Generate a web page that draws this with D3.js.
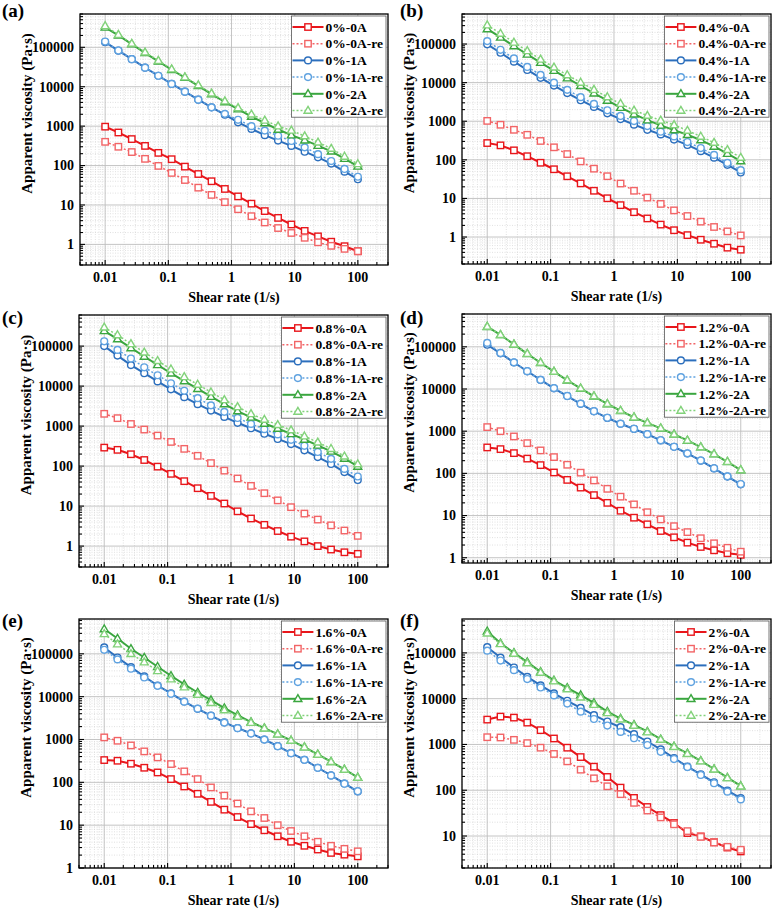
<!DOCTYPE html>
<html><head><meta charset="utf-8">
<script src="https://cdn.jsdelivr.net/npm/d3@7"></script>
<style>
body{margin:0;background:#fff}
text{font-family:"Liberation Serif","Times New Roman",serif;font-weight:bold;fill:#000}
</style>
</head><body>
<svg id="chart" width="776" height="917"></svg>
<script>
// ---------- DATA ----------
const shearRate = [0.01,0.0162,0.0264,0.0428,0.0695,0.113,0.183,0.298,0.483,0.785,1.27,2.07,3.36,5.46,8.86,14.4,23.4,37.9,61.6,100];
const panelLabels = ["(a)","(b)","(c)","(d)","(e)","(f)"];
const concentrations = ["0%","0.4%","0.8%","1.2%","1.6%","2%"];
const seriesSuffix = ["-0A","-0A-re","-1A","-1A-re","-2A","-2A-re"];
const xTitle = "Shear rate (1/s)";
const yTitle = "Apparent viscosity (Pa\u00b7s)";

const a0   = [970,690,470,315,210,145,94,61,40,25.5,16.5,10.8,7,4.7,3.2,2.2,1.6,1.17,0.9,0.67];
const a0re = [400,300,220,148,98,65,43,27.5,18,11.8,7.8,5.2,3.6,2.6,1.95,1.47,1.13,0.92,0.77,0.67];
const a1   = [135000,82000,50000,30500,19000,11800,7500,4700,3000,1950,1250,850,590,430,315,225,162,112,70,45];
const a1re = [140000,83000,50000,30500,19000,11800,7500,4700,3000,2050,1450,1000,770,570,420,290,195,130,82,52];
const a2   = [320000,200000,120000,72000,44000,27000,17000,10500,6500,4100,2700,1750,1200,820,590,440,320,230,150,95];
const a2re = [350000,210000,125000,75000,46000,28000,17500,11000,6800,4300,2900,2000,1400,1000,780,560,390,270,170,110];

const b0   = [272,237,176,124,84,57,37.5,24.5,15.8,10.1,6.7,4.4,3.03,2.1,1.5,1.12,0.85,0.67,0.53,0.47];
const b0re = [1020,810,600,445,308,211,141,91,59,37.6,24.3,15.8,10.5,7.2,4.9,3.5,2.5,1.82,1.4,1.1];
const b1   = [98000,59500,35000,21300,13300,8400,5350,3500,2350,1600,1140,815,600,456,335,243,168,114,74,47];
const b1re = [119000,71000,42500,25500,15900,10000,6500,4200,2800,1920,1370,1010,750,535,405,289,202,134,83,54];
const b2   = [246000,149000,89000,54000,33000,20500,13100,8300,5300,3450,2250,1520,1070,780,590,445,325,222,145,93];
const b2re = [309000,187000,110000,66500,40000,25000,15800,10100,6600,4250,2850,1920,1400,1050,805,575,403,280,182,115];

const c0   = [290,255,198,142,97,64,42,28,18,11.6,7.4,4.9,3.4,2.38,1.72,1.31,1.0,0.82,0.7,0.64];
const c0re = [2030,1580,1130,820,580,402,270,181,119,77,49,32,21,13.9,9.4,6.5,4.6,3.3,2.45,1.8];
const c1   = [100000,58000,33500,21000,13100,8300,5300,3540,2450,1700,1210,885,645,478,355,248,168,113,71,45];
const c1re = [132000,80500,49000,29500,18700,11800,7650,5000,3300,2270,1600,1135,840,620,455,322,225,152,85,55];
const c2   = [240000,150000,90000,55000,34000,21000,13400,8600,5450,3560,2380,1650,1160,870,640,462,330,233,155,98];
const c2re = [295000,190000,114000,70000,43000,26500,17000,11000,7050,4530,3030,2020,1460,1080,795,560,395,272,176,113];

const d0   = [412,376,302,224,157,105,70,46,30.5,20,13,8.9,6.2,4.3,3.05,2.28,1.8,1.5,1.28,1.17];
const d0re = [1250,1000,750,520,350,243,160,104,68,43,28,18.4,12,8.1,5.6,4.05,2.9,2.2,1.72,1.39];
const d1   = [112000,70000,42500,26300,16400,10400,6800,4450,2950,2060,1500,1130,845,605,425,296,200,131,84,55];
const d1re = [124000,71500,42800,26500,16500,10500,6850,4500,2980,2080,1510,1140,850,610,428,298,202,132,85,56];
const d2   = [300000,192000,114000,68000,42000,25800,16100,10300,6700,4420,3050,2130,1570,1170,838,603,420,287,188,120];
const d2re = [302000,193000,115000,69000,42500,26000,16300,10400,6800,4460,3080,2150,1580,1180,842,606,422,289,190,121];

const e0   = [331,319,272,219,170,119,80,54,35,23,15.5,10.6,7.6,5.5,4.1,3.3,2.7,2.25,2.05,1.87];
const e0re = [1120,935,727,527,382,267,180,119,76,49,32,21,14.7,10,7.3,5.5,4.1,3.3,2.8,2.45];
const e1   = [141000,82000,49000,29600,18200,11900,7700,5200,3600,2500,1850,1390,1000,700,480,337,219,145,94,61];
const e1re = [124000,74000,45000,28000,17900,11700,7650,5250,3580,2480,1840,1380,995,695,478,335,218,144,93,62];
const e2   = [380000,228000,131000,82000,50000,30700,19300,12500,8300,5400,3700,2550,1850,1340,950,665,449,303,200,130];
const e2re = [292000,168000,100000,64000,40000,25700,16700,11200,7200,4860,3450,2480,1830,1330,945,662,447,302,199,129];

const f0   = [3490,4060,3860,3000,2050,1350,850,530,327,195,114,68,43,28.6,19.2,11.6,9.8,7.3,5.6,4.6];
const f0re = [1440,1420,1260,1070,850,620,427,281,182,122,82,53,36,25.5,18,12.8,9.6,7.2,5.8,5.0];
const f1   = [133000,79000,48000,30000,19500,13000,9000,6270,4350,3160,2380,1680,1160,780,505,327,223,149,98,67];
const f1re = [112000,68000,42000,26800,17600,11800,7800,5200,3600,2590,1880,1370,970,690,480,321,215,142,93,63];
const f2   = [296000,162000,100000,62700,38600,25000,17300,12000,8060,5200,3670,2680,1920,1300,905,637,440,291,188,124];
const f2re = [268000,157000,97000,60000,37300,24200,16200,10700,7400,4900,3550,2600,1860,1280,890,625,432,286,185,122];

const panelSeries = [
  [a0,a0re,a1,a1re,a2,a2re],
  [b0,b0re,b1,b1re,b2,b2re],
  [c0,c0re,c1,c1re,c2,c2re],
  [d0,d0re,d1,d1re,d2,d2re],
  [e0,e0re,e1,e1re,e2,e2re],
  [f0,f0re,f1,f1re,f2,f2re]
];
const xDomain = [0.004, 300];
const yDomains = [[0.3,7e5],[0.2,6e5],[0.3,6e5],[0.75,6e5],[1,6.5e5],[2,5.5e5]];

// ---------- LAYOUT / STYLE ----------
const frames = [
  {x0:80,x1:388,y0:14,y1:265, lx:2,   ly:17},
  {x0:462,x1:771,y0:14,y1:264, lx:400, ly:17},
  {x0:79,x1:388,y0:315,y1:567, lx:2,   ly:324},
  {x0:462,x1:771,y0:314,y1:563, lx:400, ly:324},
  {x0:79,x1:388,y0:619,y1:868, lx:2,   ly:627},
  {x0:462,x1:771,y0:619,y1:868, lx:400, ly:627}
];
const styles = [
  {color:"#e8161b", dash:null,  shape:"square"},
  {color:"#f26466", dash:"2,2", shape:"square"},
  {color:"#2c6fbd", dash:null,  shape:"circle"},
  {color:"#5fa2e0", dash:"2,2", shape:"circle"},
  {color:"#3aa63f", dash:null,  shape:"triangle"},
  {color:"#82d27a", dash:"2,2", shape:"triangle"}
];

const svg = d3.select("#chart");

function drawMarker(g, shape, cx, cy, color){
  if(shape==="square"){
    g.append("rect").attr("x",cx-3.2).attr("y",cy-3.2).attr("width",6.4).attr("height",6.4)
      .attr("fill","#fff").attr("stroke",color).attr("stroke-width",1.4);
  } else if(shape==="circle"){
    g.append("circle").attr("cx",cx).attr("cy",cy).attr("r",3.4)
      .attr("fill","#fff").attr("stroke",color).attr("stroke-width",1.4);
  } else {
    const s=4.2;
    g.append("path").attr("d",`M${cx},${cy-s}L${cx+s*0.95},${cy+s*0.65}L${cx-s*0.95},${cy+s*0.65}Z`)
      .attr("fill","#fff").attr("stroke",color).attr("stroke-width",1.4);
  }
}

function minorValues(domain){
  const out=[];
  const lo=Math.floor(Math.log10(domain[0])), hi=Math.ceil(Math.log10(domain[1]));
  for(let e=lo;e<=hi;e++){
    for(let m=1;m<=9;m++){
      const v=m*Math.pow(10,e);
      if(v>=domain[0]*0.999 && v<=domain[1]*1.001) out.push({v, major:m===1});
    }
  }
  return out;
}

frames.forEach((fr,pi)=>{
  const x = d3.scaleLog().domain(xDomain).range([fr.x0,fr.x1]);
  const y = d3.scaleLog().domain(yDomains[pi]).range([fr.y1,fr.y0]);
  const g = svg.append("g");
  const xs = minorValues(xDomain), ys = minorValues(yDomains[pi]);

  // minor grid
  xs.filter(d=>!d.major).forEach(d=>{
    g.append("line").attr("x1",x(d.v)).attr("x2",x(d.v)).attr("y1",fr.y0).attr("y2",fr.y1)
      .attr("stroke","#d4d4d4").attr("stroke-width",0.7).attr("stroke-dasharray","1,1.5");
  });
  ys.filter(d=>!d.major).forEach(d=>{
    g.append("line").attr("x1",fr.x0).attr("x2",fr.x1).attr("y1",y(d.v)).attr("y2",y(d.v))
      .attr("stroke","#d4d4d4").attr("stroke-width",0.7).attr("stroke-dasharray","1,1.5");
  });
  // major grid
  xs.filter(d=>d.major).forEach(d=>{
    g.append("line").attr("x1",x(d.v)).attr("x2",x(d.v)).attr("y1",fr.y0).attr("y2",fr.y1)
      .attr("stroke","#bdbdbd").attr("stroke-width",0.9);
  });
  ys.filter(d=>d.major).forEach(d=>{
    g.append("line").attr("x1",fr.x0).attr("x2",fr.x1).attr("y1",y(d.v)).attr("y2",y(d.v))
      .attr("stroke","#bdbdbd").attr("stroke-width",0.9);
  });

  // series
  panelSeries[pi].forEach((vals,si)=>{
    const st=styles[si];
    const pts = shearRate.map((s,i)=>[x(s),y(vals[i])]);
    const p = g.append("path").attr("d",d3.line()(pts)).attr("fill","none")
      .attr("stroke",st.color).attr("stroke-width",st.dash?1.5:2);
    if(st.dash) p.attr("stroke-dasharray",st.dash);
    pts.forEach(pt=>drawMarker(g,st.shape,pt[0],pt[1],st.color));
  });

  // frame
  g.append("rect").attr("x",fr.x0).attr("y",fr.y0).attr("width",fr.x1-fr.x0).attr("height",fr.y1-fr.y0)
    .attr("fill","none").attr("stroke","#000").attr("stroke-width",1.3);
  // ticks inward
  xs.forEach(d=>{
    const len=d.major?5:3;
    g.append("line").attr("x1",x(d.v)).attr("x2",x(d.v)).attr("y1",fr.y1).attr("y2",fr.y1-len)
      .attr("stroke","#000").attr("stroke-width",1.1);
  });
  ys.forEach(d=>{
    const len=d.major?5:3;
    g.append("line").attr("x1",fr.x0).attr("x2",fr.x0+len).attr("y1",y(d.v)).attr("y2",y(d.v))
      .attr("stroke","#000").attr("stroke-width",1.1);
  });
  // tick labels
  const fmt = v => v<1 ? String(v) : d3.format("d")(v);
  xs.filter(d=>d.major && d.v>=0.01 && d.v<=100).forEach(d=>{
    g.append("text").attr("x",x(d.v)).attr("y",fr.y1+17).attr("text-anchor","middle")
      .attr("font-size",14).text(fmt(d.v));
  });
  ys.filter(d=>d.major).forEach(d=>{
    g.append("text").attr("x",fr.x0-6).attr("y",y(d.v)).attr("dy","0.35em").attr("text-anchor","end")
      .attr("font-size",14).text(fmt(d.v));
  });
  // axis titles
  g.append("text").attr("x",(fr.x0+fr.x1)/2).attr("y",fr.y1+37).attr("text-anchor","middle")
    .attr("font-size",14).text(xTitle);
  const ty=(fr.y0+fr.y1)/2-26, tx=fr.x0-53;
  g.append("text").attr("transform",`translate(${tx},${ty}) rotate(-90)`).attr("text-anchor","middle")
    .attr("dy","0.35em").attr("font-size",15).text(yTitle);
  // panel label
  g.append("text").attr("x",fr.lx).attr("y",fr.ly).attr("font-size",19).text(panelLabels[pi]);

  // legend
  const lg = g.append("g");
  const rowH=16.7, top=fr.y0+2;
  const labels = seriesSuffix.map(s=>concentrations[pi]+s);
  const texts = labels.map((t,i)=>lg.append("text").attr("y",top+11+i*rowH).attr("dy","0.35em")
      .attr("font-size",13.5).text(t));
  const tw = d3.max(texts, t=>t.node().getComputedTextLength());
  const bw = 34+tw+3, bx = fr.x1-2-bw;
  lg.insert("rect",":first-child").attr("x",bx).attr("y",top).attr("width",bw).attr("height",6*rowH+1)
    .attr("fill","#fff").attr("stroke","#555").attr("stroke-width",0.8);
  texts.forEach(t=>t.attr("x",bx+34));
  styles.forEach((st,i)=>{
    const yy=top+11+i*rowH;
    const l=lg.append("line").attr("x1",bx+1).attr("x2",bx+32).attr("y1",yy).attr("y2",yy)
      .attr("stroke",st.color).attr("stroke-width",st.dash?1.5:2);
    if(st.dash) l.attr("stroke-dasharray",st.dash);
    drawMarker(lg,st.shape,bx+16.5,yy,st.color);
  });
});
</script>
</body></html>
